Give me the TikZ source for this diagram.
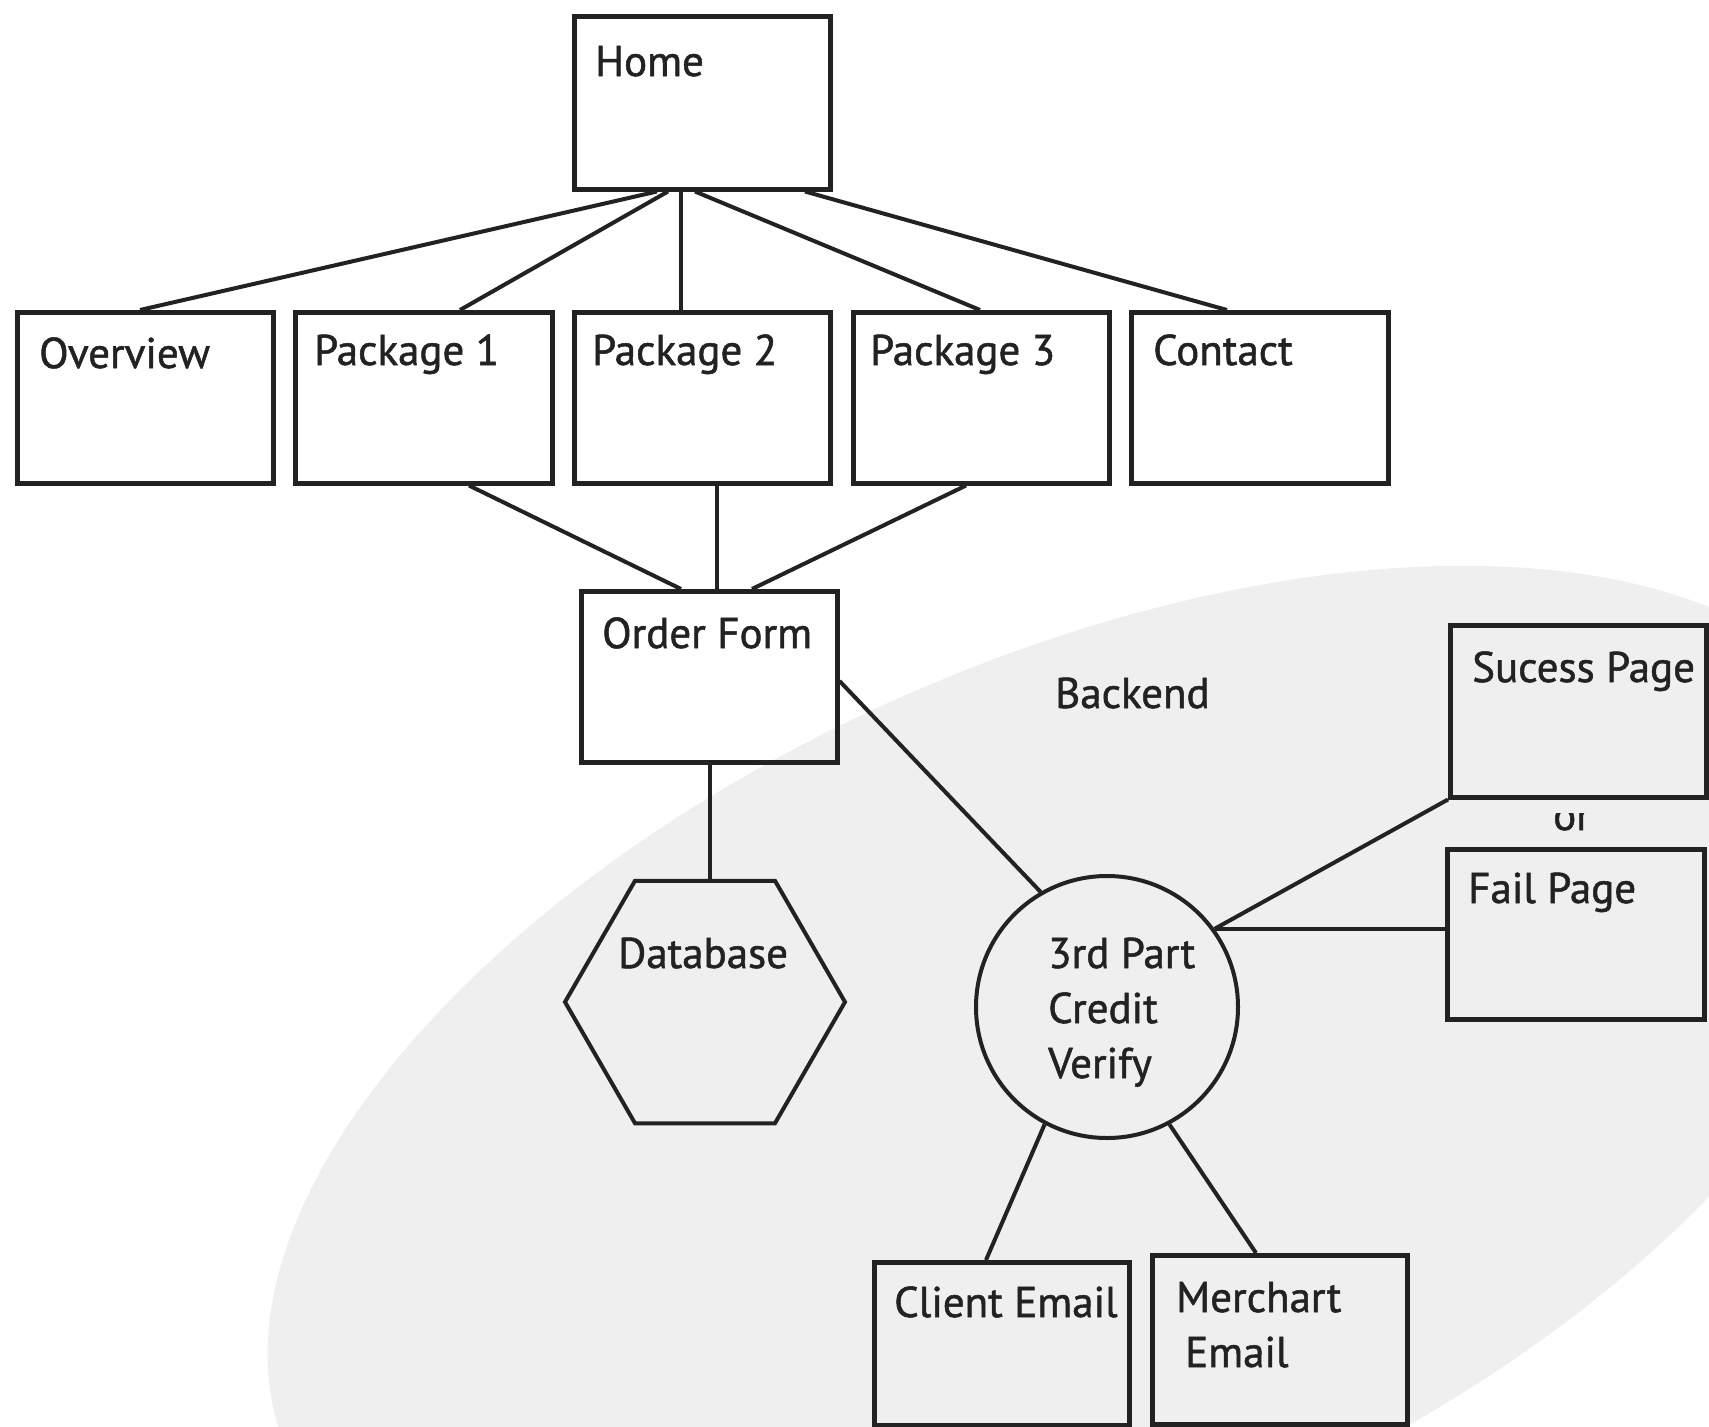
\documentclass[tikz,border=0pt]{standalone}
\usepackage{fontspec}
\setmainfont{PT Sans}[BoldFont=PT Sans, BoldFeatures={FakeBold=1.2}]
\usetikzlibrary{calc,shapes.geometric}
\definecolor{bggray}{HTML}{EFEFEF}
\definecolor{ink}{HTML}{222222}
\begin{document}
\begin{tikzpicture}[x=1pt,y=-1pt,
  pagebox/.style={draw=ink, line width=4.5pt, rectangle, inner sep=0pt, anchor=north west},
  lbl/.style={text=ink, font=\fontsize{43}{55}\selectfont\bfseries, inner sep=0pt, anchor=base west},
  conn/.style={draw=ink, line width=4pt}]
\fill[white] (0,0) rectangle (1709,1427);
\path[use as bounding box] (0,0) rectangle (1709,1427);
\begin{scope}
  \clip (0,0) rectangle (1709,1427);
  \fill[bggray, rotate around={24:(1078,1100)}] (1078,1100) ellipse [x radius=865pt, y radius=440pt];
\end{scope}

% boxes
\node[pagebox, minimum width=256pt, minimum height=173pt] (home) at (572,14) {};
\node[pagebox, minimum width=256pt, minimum height=171pt] (ovw) at (15,310) {};
\node[pagebox, minimum width=257pt, minimum height=171pt] (pk1) at (293,310) {};
\node[pagebox, minimum width=256pt, minimum height=171pt] (pk2) at (572,310) {};
\node[pagebox, minimum width=256pt, minimum height=171pt] (pk3) at (851,310) {};
\node[pagebox, minimum width=257pt, minimum height=171pt] (cnt) at (1129,310) {};
\node[pagebox, minimum width=256pt, minimum height=171pt] (of) at (579,589) {};
\node[pagebox, minimum width=256pt, minimum height=172pt] (suc) at (1448,623) {};
\node[pagebox, minimum width=257pt, minimum height=170pt] (fail) at (1445,847) {};
\node[pagebox, minimum width=255pt, minimum height=163pt] (cli) at (872,1260) {};
\node[pagebox, minimum width=255pt, minimum height=169pt] (mer) at (1150,1253) {};
\node[draw=ink, line width=4pt, regular polygon, regular polygon sides=6, minimum size=280pt, inner sep=0pt] (db) at (705,1002) {};
\node[draw=ink, line width=4pt, circle, minimum size=262pt, inner sep=0pt] (cv) at (1107,1007) {};

% texts
\node[lbl] (homet) at ($(home.north west)+(23,62)$) {Home};
\node[lbl] (ovwt) at ($(ovw.north west)+(24,58)$) {Overview};
\node[lbl] (pk1t) at ($(pk1.north west)+(21,55)$) {Package 1};
\node[lbl] (pk2t) at ($(pk2.north west)+(20,55)$) {Package 2};
\node[lbl] (pk3t) at ($(pk3.north west)+(19,55)$) {Package 3};
\node[lbl] (cntt) at ($(cnt.north west)+(24,55)$) {Contact};
\node[lbl] (oft) at ($(of.north west)+(23,59)$) {Order Form};
\node[lbl] (back) at (1055,708) {Backend};
\node[lbl] (suct) at ($(suc.north west)+(24,59)$) {Sucess Page};
\node[lbl] (failt) at ($(fail.north west)+(23,56)$) {Fail Page};
\node[lbl] (dbt) at (618,968) {Database};
\node[lbl] (cvt) at (1048,968) {\begin{tabular}[t]{@{}l@{}}3rd Part\\Credit\\Verify\end{tabular}};
\node[lbl] (clit) at ($(cli.north west)+(22,57)$) {Client Email};
\node[lbl] (mert) at ($(mer.north west)+(26,59)$) {\begin{tabular}[t]{@{}l@{}}Merchart\\\hspace{9pt}Email\end{tabular}};
\begin{scope}
  \clip (1500,813) rectangle (1650,845);
  \node[lbl, anchor=base] (ort) at (1572,830) {or};
\end{scope}

% connectors
\draw[conn] ($(home.south west)+(85,0)$) -- ($(ovw.north west)+(125,0)$);
\draw[conn] ($(home.south west)+(96,0)$) -- ($(pk1.north west)+(167,0)$);
\draw[conn] ($(home.south west)+(109,0)$) -- ($(pk2.north west)+(109,0)$);
\draw[conn] ($(home.south west)+(123,0)$) -- ($(pk3.north west)+(129,0)$);
\draw[conn] ($(home.south west)+(233,0)$) -- ($(cnt.north west)+(98,0)$);
\draw[conn] ($(pk1.south west)+(176,0)$) -- ($(of.north west)+(102,0)$);
\draw[conn] ($(pk2.south west)+(145,0)$) -- ($(of.north west)+(138,0)$);
\draw[conn] ($(pk3.south west)+(115,0)$) -- ($(of.north west)+(173,0)$);
\draw[conn] ($(of.south west)+(131,0)$) coordinate (dbc) -- (dbc |- db.north);
\draw[conn] ($(of.north east)+(0,92)$) -- (cv.120);
\draw[conn] (cv.36) -- (suc.south west);
\draw[conn] (cv.36) -- (cv.36 -| fail.west);
\draw[conn] (cv.242) -- ($(cli.north west)+(114,0)$);
\draw[conn] (cv.298) -- ($(mer.north west)+(106,0)$);
\end{tikzpicture}
\end{document}
